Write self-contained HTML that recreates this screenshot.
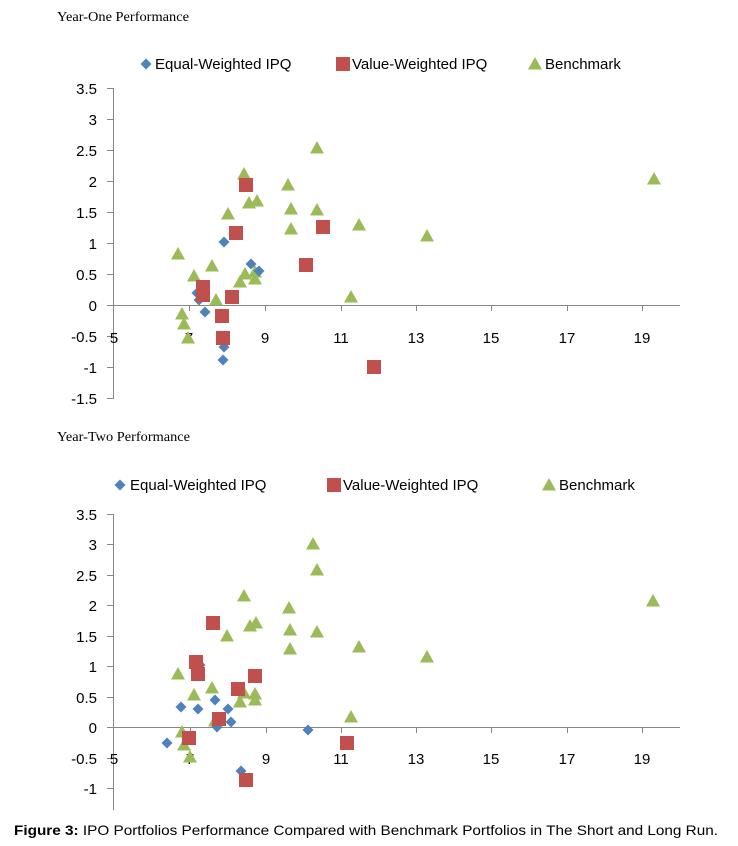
<!DOCTYPE html>
<html><head><meta charset="utf-8"><style>
html,body{margin:0;padding:0;background:#fff;width:738px;height:846px;overflow:hidden}
svg{display:block}
.t{font-family:"Liberation Sans",sans-serif;font-size:15px;fill:#000}
.s{font-family:"Liberation Serif",serif;font-size:14px;fill:#000}
</style></head><body>
<svg width="738" height="846" viewBox="0 0 738 846" xmlns="http://www.w3.org/2000/svg">
<defs>
<path id="d" d="M0,-5.5 L5.5,0 L0,5.5 L-5.5,0Z" fill="#4F81BD"/>
<rect id="q" x="-7" y="-7" width="14" height="14" fill="#C0504D"/>
<path id="g" d="M0,-7 L7,5.5 L-7,5.5Z" fill="#9BBB59"/>
</defs>
<text class="s" x="57" y="21" textLength="132" lengthAdjust="spacingAndGlyphs">Year-One Performance</text>
<text class="s" x="57" y="441" textLength="133" lengthAdjust="spacingAndGlyphs">Year-Two Performance</text>

<g stroke="#868686" stroke-width="1" fill="none">
<line x1="113.5" y1="88" x2="113.5" y2="399"/>
<line x1="107" y1="305.5" x2="680" y2="305.5"/>
<path d="M107,88.5h7M107,119.5h7M107,150.5h7M107,181.5h7M107,212.5h7M107,243.5h7M107,274.5h7M107,336.5h7M107,367.5h7M107,398.5h7"/>
<path d="M189.5,305v6M265.5,305v6M341.5,305v6M416.5,305v6M491.5,305v6M567.5,305v6M642.5,305v6"/>
</g>
<g class="t" text-anchor="end">
<text x="97" y="94">3.5</text><text x="97" y="125">3</text><text x="97" y="156">2.5</text><text x="97" y="187">2</text><text x="97" y="218">1.5</text><text x="97" y="249">1</text><text x="97" y="280">0.5</text><text x="97" y="311">0</text><text x="97" y="342">-0.5</text><text x="97" y="373">-1</text><text x="97" y="404">-1.5</text>
</g>
<g class="t" text-anchor="middle">
<text x="114" y="343">5</text><text x="189" y="343">7</text><text x="265" y="343">9</text><text x="341" y="343">11</text><text x="416" y="343">13</text><text x="491" y="343">15</text><text x="567" y="343">17</text><text x="642" y="343">19</text>
</g>
<use href="#d" x="146" y="64"/><text class="t" x="155" y="69">Equal-Weighted IPQ</text>
<use href="#q" x="343" y="64"/><text class="t" x="352" y="69">Value-Weighted IPQ</text>
<use href="#g" x="535" y="64"/><text class="t" x="545" y="69">Benchmark</text>

<g>
<use href="#g" x="317" y="148"/><use href="#g" x="244" y="174"/><use href="#g" x="288" y="185"/><use href="#g" x="249" y="203"/><use href="#g" x="257" y="201"/><use href="#g" x="228" y="214"/><use href="#g" x="291" y="209"/><use href="#g" x="317" y="210"/><use href="#g" x="359" y="225"/><use href="#g" x="291" y="229"/><use href="#g" x="178" y="254"/><use href="#g" x="212" y="266"/><use href="#g" x="194" y="276"/><use href="#g" x="245" y="274"/><use href="#g" x="255" y="272"/><use href="#g" x="240" y="282"/><use href="#g" x="255" y="279"/><use href="#g" x="216" y="300"/><use href="#g" x="351" y="297"/><use href="#g" x="182" y="314"/><use href="#g" x="184" y="324"/><use href="#g" x="188" y="338"/><use href="#g" x="427" y="236"/><use href="#g" x="654" y="179"/>
<use href="#d" x="224" y="242"/><use href="#d" x="251" y="264"/><use href="#d" x="259" y="271"/><use href="#d" x="197" y="293"/><use href="#d" x="199" y="300"/><use href="#d" x="205" y="312"/><use href="#d" x="224" y="347"/><use href="#d" x="223" y="360"/>
<use href="#q" x="246" y="185"/><use href="#q" x="236" y="233"/><use href="#q" x="323" y="227"/><use href="#q" x="306" y="265"/><use href="#q" x="203" y="287"/><use href="#q" x="203" y="295"/><use href="#q" x="232" y="297"/><use href="#q" x="222" y="316"/><use href="#q" x="223" y="338"/><use href="#q" x="374" y="367"/>
</g>

<g stroke="#868686" stroke-width="1" fill="none">
<line x1="113.5" y1="514" x2="113.5" y2="810"/>
<line x1="107" y1="727.5" x2="680" y2="727.5"/>
<path d="M107,514.5h7M107,544.5h7M107,575.5h7M107,605.5h7M107,636.5h7M107,666.5h7M107,697.5h7M107,758.5h7M107,788.5h7"/>
<path d="M190.5,727v6M266.5,727v6M341.5,727v6M416.5,727v6M491.5,727v6M567.5,727v6M642.5,727v6"/>
</g>
<g class="t" text-anchor="end">
<text x="97" y="520">3.5</text><text x="97" y="550">3</text><text x="97" y="581">2.5</text><text x="97" y="611">2</text><text x="97" y="642">1.5</text><text x="97" y="672">1</text><text x="97" y="703">0.5</text><text x="97" y="733">0</text><text x="97" y="764">-0.5</text><text x="97" y="794">-1</text>
</g>
<g class="t" text-anchor="middle">
<text x="114" y="764">5</text><text x="190" y="764">7</text><text x="266" y="764">9</text><text x="341" y="764">11</text><text x="416" y="764">13</text><text x="491" y="764">15</text><text x="567" y="764">17</text><text x="642" y="764">19</text>
</g>
<use href="#d" x="120" y="485"/><text class="t" x="130" y="490">Equal-Weighted IPQ</text>
<use href="#q" x="334" y="485"/><text class="t" x="343" y="490">Value-Weighted IPQ</text>
<use href="#g" x="549" y="485"/><text class="t" x="559" y="490">Benchmark</text>

<g>
<use href="#g" x="313" y="544"/><use href="#g" x="317" y="570"/><use href="#g" x="244" y="596"/><use href="#g" x="289" y="608"/><use href="#g" x="250" y="626"/><use href="#g" x="256" y="623"/><use href="#g" x="227" y="636"/><use href="#g" x="290" y="630"/><use href="#g" x="317" y="632"/><use href="#g" x="290" y="649"/><use href="#g" x="359" y="647"/><use href="#g" x="178" y="674"/><use href="#g" x="212" y="688"/><use href="#g" x="194" y="695"/><use href="#g" x="244" y="693"/><use href="#g" x="255" y="694"/><use href="#g" x="240" y="702"/><use href="#g" x="255" y="700"/><use href="#g" x="351" y="717"/><use href="#g" x="215" y="721"/><use href="#g" x="182" y="732"/><use href="#g" x="184" y="745"/><use href="#g" x="190" y="757"/><use href="#g" x="427" y="657"/><use href="#g" x="653" y="601"/>
<use href="#d" x="200" y="665"/><use href="#d" x="181" y="707"/><use href="#d" x="198" y="709"/><use href="#d" x="215" y="700"/><use href="#d" x="228" y="709"/><use href="#d" x="231" y="722"/><use href="#d" x="217" y="727"/><use href="#d" x="167" y="743"/><use href="#d" x="241" y="771"/><use href="#d" x="308" y="730"/>
<use href="#q" x="213" y="623"/><use href="#q" x="196" y="662"/><use href="#q" x="198" y="674"/><use href="#q" x="255" y="676"/><use href="#q" x="238" y="689"/><use href="#q" x="219" y="719"/><use href="#q" x="189" y="738"/><use href="#q" x="347" y="743"/><use href="#q" x="246" y="780"/>
</g>

<text x="14" y="835" font-family="Liberation Sans, sans-serif" font-size="14" textLength="704" lengthAdjust="spacingAndGlyphs"><tspan font-weight="bold">Figure 3:</tspan> IPO Portfolios Performance Compared with Benchmark Portfolios in The Short and Long Run.</text>
</svg>
</body></html>
